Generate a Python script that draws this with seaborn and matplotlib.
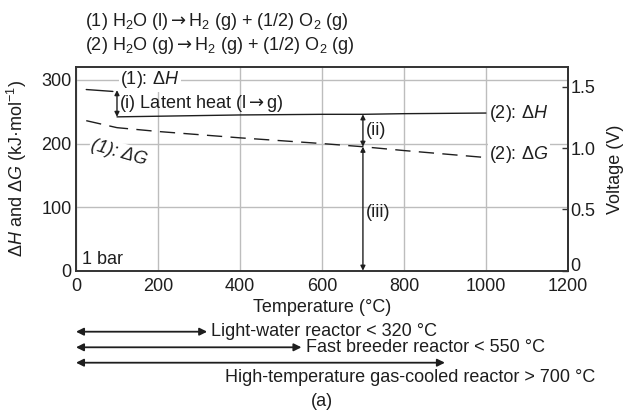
import numpy as np
import pandas as pd
import matplotlib
matplotlib.use("Agg")
import matplotlib.pyplot as plt
import matplotlib.transforms as mtransforms
import seaborn as sns

# ---------------- data ----------------
temp_liq_H = [25, 90]
dH_liq = [285, 282]
temp_liq_G = [25, 100]
dG_liq = [236, 225]
temp_steam = [100, 200, 400, 600, 700, 800, 1000]
dH_steam = [242, 243, 245, 246, 246, 247, 248]
dG_steam = [225, 219, 209, 200, 195, 189, 178]

latent_T = 100
split_T = 700

x_ticks = [0, 200, 400, 600, 800, 1000, 1200]
y_ticks = [0, 100, 200, 300]
volt_ticks = [0, 0.5, 1.0, 1.5]
volt_labels = ["0", "0.5", "1.0", "1.5"]

reactor_names = ["Light-water reactor < 320 °C",
                 "Fast breeder reactor < 550 °C",
                 "High-temperature gas-cooled reactor > 700 °C"]
reactor_limits = [320, 550, 900]

FARADAY = 96.485  # kJ/(V mol)

# ---------------- style ----------------
sns.set_theme(style="white")
plt.rcParams["font.family"] = ["Liberation Sans", "DejaVu Sans"]
plt.rcParams["mathtext.fontset"] = "custom"
plt.rcParams["mathtext.rm"] = "Liberation Sans"
plt.rcParams["mathtext.it"] = "Liberation Sans:italic"
plt.rcParams["mathtext.bf"] = "Liberation Sans:bold"
plt.rcParams["mathtext.sf"] = "DejaVu Sans"
plt.rcParams["font.size"] = 13

ink = "#1e1e1e"
fs = 13
ARROW = r"$\mathsf{\rightarrow}$"

fig = plt.figure(figsize=(6.25, 4.12), dpi=100)
ax = fig.add_axes([0.1216, 0.343, 0.787, 0.4937])

df_lh = pd.DataFrame({"T": temp_liq_H, "v": dH_liq})
df_lg = pd.DataFrame({"T": temp_liq_G, "v": dG_liq})
df_sh = pd.DataFrame({"T": temp_steam, "v": dH_steam})
df_sg = pd.DataFrame({"T": temp_steam, "v": dG_steam})

sns.lineplot(data=df_lh, x="T", y="v", ax=ax, color=ink, lw=1.0)
sns.lineplot(data=df_sh, x="T", y="v", ax=ax, color=ink, lw=1.0)
sns.lineplot(data=df_lg, x="T", y="v", ax=ax, color=ink, lw=1.0)
ax.lines[-1].set_linestyle((0, (11, 6)))
sns.lineplot(data=df_sg, x="T", y="v", ax=ax, color=ink, lw=1.0)
ax.lines[-1].set_linestyle((3, (11, 6)))

ax.set_xlim(0, 1200)
ax.set_ylim(0, 320)
ax.set_xticks(x_ticks)
ax.set_xticks(np.arange(0, 1201, 100), minor=True)
ax.set_yticks(y_ticks)
ax.grid(True, which="major", color="#bdbdbd", lw=1.0)
ax.set_axisbelow(True)
for s in ax.spines.values():
    s.set_color("#333333")
    s.set_linewidth(1.4)
ax.tick_params(axis="x", which="both", direction="in", length=4, width=1,
               color="#333333", pad=5.5, labelsize=fs, labelcolor=ink)
ax.tick_params(axis="y", direction="in", length=0, pad=3, labelsize=fs,
               labelcolor=ink)
ax.set_xlabel("Temperature (°C)", fontsize=fs, color=ink, labelpad=3)
ax.set_ylabel(r"$\Delta H$ and $\Delta G$ (kJ·mol$^{-1}$)", fontsize=fs,
              color=ink, labelpad=9)

sec = ax.secondary_yaxis("right", functions=(lambda y: y / (2 * FARADAY),
                                               lambda v: v * 2 * FARADAY))
sec.set_yticks(volt_ticks)
sec.set_yticklabels(volt_labels)
sec.tick_params(direction="in", length=4, width=1, color="#333333", pad=2,
                labelsize=fs, labelcolor=ink)
sec.spines["right"].set_color("#333333")
sec.spines["right"].set_linewidth(1.4)
sec.set_ylabel("Voltage (V)", fontsize=fs, color=ink, labelpad=8)
# the "0" volt label sits on its baseline, just above the x tick labels
sec.yaxis.get_major_ticks()[0].label2.set_verticalalignment("baseline")

# ---------------- annotations ----------------
box = dict(facecolor="white", edgecolor="none", pad=1.0)
ax.text(108, 300, r"(1): $\Delta H$", fontsize=fs, color=ink, ha="left",
        va="center", bbox=box, zorder=3)
ax.text(105, 186, "(1): ΔG", fontsize=fs, color=ink, style="italic",
        rotation=-16, rotation_mode="anchor", ha="center", va="center",
        bbox=box, zorder=3)
ax.text(1008, 246.5, r"(2): $\Delta H$", fontsize=fs, color=ink, ha="left",
        va="center", bbox=box, zorder=3)
ax.text(1008, 182, r"(2): $\Delta G$", fontsize=fs, color=ink, ha="left",
        va="center", bbox=box, zorder=3)
ax.text(106, 263, "(i) Latent heat (l" + ARROW + "g)", fontsize=fs,
        color=ink, ha="left", va="center", zorder=3)
ax.text(15, 18, "1 bar", fontsize=fs, color=ink, ha="left", va="center")

aprops = dict(arrowstyle="<|-|>", color=ink, lw=1.0, mutation_scale=7,
              shrinkA=0, shrinkB=0)
h1_at_latent = dH_liq[-1]
h2_at_latent = float(np.interp(latent_T, temp_steam, dH_steam))
ax.annotate("", xy=(latent_T, h2_at_latent), xytext=(latent_T, h1_at_latent + 2),
            arrowprops=aprops)
h2_split = float(np.interp(split_T, temp_steam, dH_steam))
g2_split = float(np.interp(split_T, temp_steam, dG_steam))
ax.annotate("", xy=(split_T, g2_split), xytext=(split_T, h2_split),
            arrowprops=aprops)
ax.annotate("", xy=(split_T, 0), xytext=(split_T, g2_split),
            arrowprops=aprops)
ax.text(split_T + 8, (h2_split + g2_split) / 2, "(ii)", fontsize=fs,
        color=ink, ha="left", va="center")
ax.text(split_T + 8, 92, "(iii)", fontsize=fs, color=ink, ha="left",
        va="center")

# reactor ranges below the axes
bl = mtransforms.blended_transform_factory(ax.transData, fig.transFigure)
arrow_y = [1 - 331.7 / 412, 1 - 347.3 / 412, 1 - 362.7 / 412]
bprops = dict(arrowstyle="<|-|>", color=ink, lw=1.3, mutation_scale=11,
              shrinkA=0, shrinkB=0)
for name, lim, yy in zip(reactor_names, reactor_limits, arrow_y):
    ax.annotate("", xy=(lim, yy), xytext=(0, yy),
                xycoords=bl, textcoords=bl, arrowprops=bprops,
                annotation_clip=False)
ax.text(reactor_limits[0] + 10, arrow_y[0], reactor_names[0], transform=bl,
        fontsize=fs, color=ink, ha="left", va="center")
ax.text(reactor_limits[1] + 10, arrow_y[1], reactor_names[1], transform=bl,
        fontsize=fs, color=ink, ha="left", va="center")
fig.text(595 / 625, 1 - 377 / 412, reactor_names[2], fontsize=fs, color=ink,
         ha="right", va="center")
fig.text(322 / 625, 1 - 401 / 412, "(a)", fontsize=fs, color=ink,
         ha="center", va="center")

# reaction equations at the top
fig.text(85 / 625, 1 - 21 / 412,
         r"(1) H$_2$O (l)" + ARROW + r"H$_2$ (g) + (1/2) O$_2$ (g)",
         fontsize=fs, color=ink, ha="left", va="center")
fig.text(85 / 625, 1 - 46 / 412,
         r"(2) H$_2$O (g)" + ARROW + r"H$_2$ (g) + (1/2) O$_2$ (g)",
         fontsize=fs, color=ink, ha="left", va="center")

fig.savefig("out.png", dpi=100, facecolor="white")
